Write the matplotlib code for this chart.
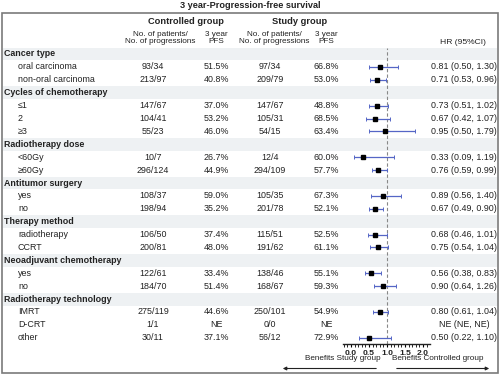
import matplotlib
matplotlib.use('Agg')
import matplotlib.pyplot as plt
from matplotlib.patches import Rectangle
from matplotlib.ticker import MultipleLocator

plt.rcParams['font.family'] = ['Liberation Sans', 'DejaVu Sans']

# table data
groups = ["Cancer type", "Cycles of chemotherapy", "Radiotherapy dose",
          "Antitumor surgery", "Therapy method", "Neoadjuvant chemotherapy",
          "Radiotherapy technology"]
subgroups = [["oral carcinoma", "non-oral carcinoma"],
             ["\u22641", "2", "\u22653"],
             ["<60Gy", "\u226560Gy"],
             ["yes", "no"],
             ["radiotherapy", "CCRT"],
             ["yes", "no"],
             ["IMRT", "D-CRT", "other"]]
ctrl_n = ["93/34", "213/97", "147/67", "104/41", "55/23", "10/7", "296/124",
          "108/37", "198/94", "106/50", "200/81", "122/61", "184/70",
          "275/119", "1/1", "30/11"]
ctrl_pfs = ["51.5%", "40.8%", "37.0%", "53.2%", "46.0%", "26.7%", "44.9%",
            "59.0%", "35.2%", "37.4%", "48.0%", "33.4%", "51.4%",
            "44.6%", "NE", "37.1%"]
study_n = ["97/34", "209/79", "147/67", "105/31", "54/15", "12/4", "294/109",
           "105/35", "201/78", "115/51", "191/62", "138/46", "168/67",
           "250/101", "0/0", "56/12"]
study_pfs = ["66.8%", "53.0%", "48.8%", "68.5%", "63.4%", "60.0%", "57.7%",
             "67.3%", "52.1%", "52.5%", "61.1%", "55.1%", "59.3%",
             "54.9%", "NE", "72.9%"]
hr = [0.81, 0.71, 0.73, 0.67, 0.95, 0.33, 0.76, 0.89, 0.67, 0.68, 0.75,
      0.56, 0.90, 0.80, None, 0.50]
lo = [0.50, 0.53, 0.51, 0.42, 0.50, 0.09, 0.59, 0.56, 0.49, 0.46, 0.54,
      0.38, 0.64, 0.61, None, 0.22]
hi = [1.30, 0.96, 1.02, 1.07, 1.79, 1.19, 0.99, 1.40, 0.90, 1.01, 1.04,
      0.83, 1.26, 1.04, None, 1.10]
xticks = [0.0, 0.5, 1.0, 1.5, 2.0]

W, H = 500, 375
fig = plt.figure(figsize=(5, 3.75), dpi=100)
ax = fig.add_axes([0, 0, 1, 1])
ax.set_xlim(0, W)
ax.set_ylim(H, 0)
ax.axis('off')

row0, pitch = 54, 12.9
fs = 6.4
txt = '#222222'
stripe = '#eef1f3'

ax.text(250, 5.5, "3 year-Progression-free survival", ha='center', va='center',
        fontsize=fs + 0.2, fontweight='bold', color=txt)
ax.add_patch(Rectangle((2, 13), 496, 360, fill=False, ec='#7a7a7a', lw=1.2))

ax.text(186, 22, "Controlled group", ha='center', va='center', fontsize=fs + 0.3,
        fontweight='bold', color=txt)
ax.text(300, 22, "Study group", ha='center', va='center', fontsize=fs + 0.3,
        fontweight='bold', color=txt)
for cx in (160, 274):
    ax.text(cx, 38, "No. of patients/\nNo. of progressions", ha='center',
            va='center', fontsize=fs - 0.5, color=txt, linespacing=0.95)
for cx in (216, 326):
    ax.text(cx, 38, "3 year\nPFS", ha='center', va='center', fontsize=fs - 0.5,
            color=txt, linespacing=0.95)
ax.text(463, 42.5, "HR (95%CI)", ha='center', va='center', fontsize=fs - 0.3,
        color=txt)

rows = []
k = 0
r = 0
for g, subs in zip(groups, subgroups):
    y = row0 + pitch * r
    ax.add_patch(Rectangle((3, y - pitch / 2), 494, pitch, fc=stripe, ec='none', zorder=0))
    ax.text(4, y, g, ha='left', va='center', fontsize=fs, fontweight='bold', color=txt)
    r += 1
    for s in subs:
        y = row0 + pitch * r
        ax.text(18, y, s, ha='left', va='center', fontsize=fs, color=txt)
        ax.text(153, y, ctrl_n[k], ha='center', va='center', fontsize=fs, color=txt)
        ax.text(216, y, ctrl_pfs[k], ha='center', va='center', fontsize=fs, color=txt)
        ax.text(270, y, study_n[k], ha='center', va='center', fontsize=fs, color=txt)
        ax.text(326, y, study_pfs[k], ha='center', va='center', fontsize=fs, color=txt)
        if hr[k] is None:
            lab = "NE (NE, NE)"
        else:
            lab = "%.2f (%.2f, %.2f)" % (hr[k], lo[k], hi[k])
        ax.text(464, y, lab, ha='center', va='center', fontsize=fs, color=txt)
        rows.append(r)
        k += 1
        r += 1
nrows = r

# forest panel
x0px, xscale = 351, 36.0
xl = ((343 - x0px) / xscale, (430 - x0px) / xscale)
top_px = row0 - pitch / 2
bot_px = row0 + pitch * (nrows - 0.5)
fax = fig.add_axes([343 / W, 1 - bot_px / H, 87 / W, (bot_px - top_px) / H])
fax.set_xlim(*xl)
fax.set_ylim(nrows - 0.5, -0.5)
fax.patch.set_alpha(0)
for sp in ('top', 'right', 'left'):
    fax.spines[sp].set_visible(False)
fax.spines['bottom'].set_color('#222222')
fax.spines['bottom'].set_linewidth(1.0)
fax.set_yticks([])
fax.xaxis.set_minor_locator(MultipleLocator(0.1))
fax.set_xticks(xticks)
fax.set_xticklabels(["%.1f" % t for t in xticks], fontsize=fs - 0.3,
                    fontweight='bold', color=txt)
fax.tick_params(axis='x', which='major', length=2.5, width=0.8, pad=1.5)
fax.tick_params(axis='x', which='minor', length=1.8, width=0.6)
fax.axvline(1.0, color='#888888', lw=0.8, ls=(0, (3, 2)), zorder=1)

for i, rr in enumerate(rows):
    if hr[i] is None:
        continue
    fax.errorbar(hr[i], rr, xerr=[[hr[i] - lo[i]], [hi[i] - hr[i]]], fmt='s',
                 color='black', ms=3.1, ecolor='#5566c6', elinewidth=0.9,
                 capsize=1.3, capthick=0.7, zorder=3)

# benefit labels and arrows
ax.text(343, 359, "Benefits Study group", ha='center', va='center', fontsize=fs - 0.5, color=txt)
ax.text(438, 359, "Benefits Controlled group", ha='center', va='center', fontsize=fs - 0.5, color=txt)
ax.annotate("", xy=(280, 368.5), xytext=(379, 368.5),
            arrowprops=dict(arrowstyle='-|>', color='#222222', lw=0.8, mutation_scale=5))
ax.annotate("", xy=(492, 368.5), xytext=(394, 368.5),
            arrowprops=dict(arrowstyle='-|>', color='#222222', lw=0.8, mutation_scale=5))

fig.savefig('out.png', dpi=100)
